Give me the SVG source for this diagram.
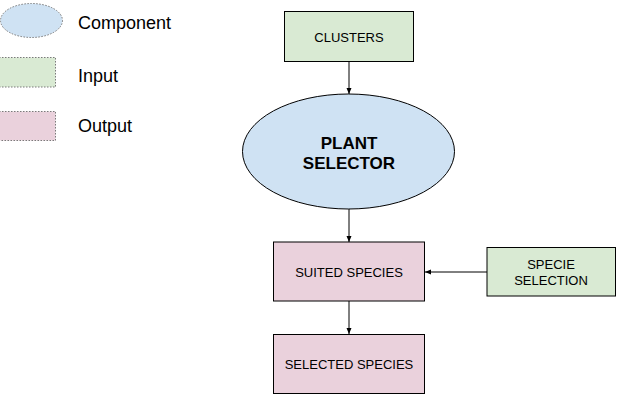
<svg xmlns="http://www.w3.org/2000/svg" width="632" height="406" viewBox="0 0 632 406">
<defs>
<style>
.leg{stroke:#7a7a7a;stroke-width:1;stroke-dasharray:1.5,1.5}
.comp{fill:#cfe2f3}
.inp{fill:#d9ead3}
.out{fill:#ead1dc}
.solid{stroke:#000;stroke-width:1}
.lt{font-family:"Liberation Sans",Arial,sans-serif;font-size:18px;fill:#000}
.nt{font-family:"Liberation Sans",Arial,sans-serif;font-size:13px;fill:#000;text-anchor:middle}
.bt{font-family:"Liberation Sans",Arial,sans-serif;font-size:17px;font-weight:bold;fill:#000;text-anchor:middle}
.conn{stroke:#000;stroke-width:1;fill:none;marker-end:url(#ah)}
</style>
<marker id="ah" markerWidth="8" markerHeight="8" refX="7" refY="4" orient="auto" markerUnits="userSpaceOnUse">
<path d="M1,1.5 L7,4 L1,6.5 Z" fill="#000"/>
</marker>
</defs>
<rect width="632" height="406" fill="#fff"/>
<g id="legend">
<ellipse class="comp leg" cx="31.5" cy="20.5" rx="31" ry="17"/>
<text class="lt" x="78" y="29">Component</text>
<rect class="inp leg" x="-1" y="57.5" width="56.5" height="29.5"/>
<text class="lt" x="78" y="82">Input</text>
<rect class="out leg" x="-1" y="111.5" width="56.5" height="29"/>
<text class="lt" x="78" y="132">Output</text>
</g>
<g id="connectors">
<line class="conn" x1="349" y1="62" x2="349" y2="94"/>
<line class="conn" x1="349" y1="209" x2="349" y2="242"/>
<line class="conn" x1="349" y1="301" x2="349" y2="334"/>
<line class="conn" x1="487" y1="272" x2="425" y2="272"/>
</g>
<g id="clusters">
<rect class="inp solid" x="284.5" y="11.5" width="129" height="50"/>
<text class="nt" x="349" y="41.5">CLUSTERS</text>
</g>
<g id="plant-selector">
<ellipse class="comp solid" cx="348.5" cy="151.5" rx="106" ry="57.5"/>
<text class="bt" x="349" y="149">PLANT</text>
<text class="bt" x="349" y="169">SELECTOR</text>
</g>
<g id="suited-species">
<rect class="out solid" x="273.5" y="242" width="151" height="59"/>
<text class="nt" x="349" y="276.5">SUITED SPECIES</text>
</g>
<g id="specie-selection">
<rect class="inp solid" x="487" y="247.5" width="128.5" height="48.5"/>
<text class="nt" x="551" y="269">SPECIE</text>
<text class="nt" x="551" y="285">SELECTION</text>
</g>
<g id="selected-species">
<rect class="out solid" x="273.5" y="334.5" width="151" height="59"/>
<text class="nt" x="349" y="368.5">SELECTED SPECIES</text>
</g>
</svg>
